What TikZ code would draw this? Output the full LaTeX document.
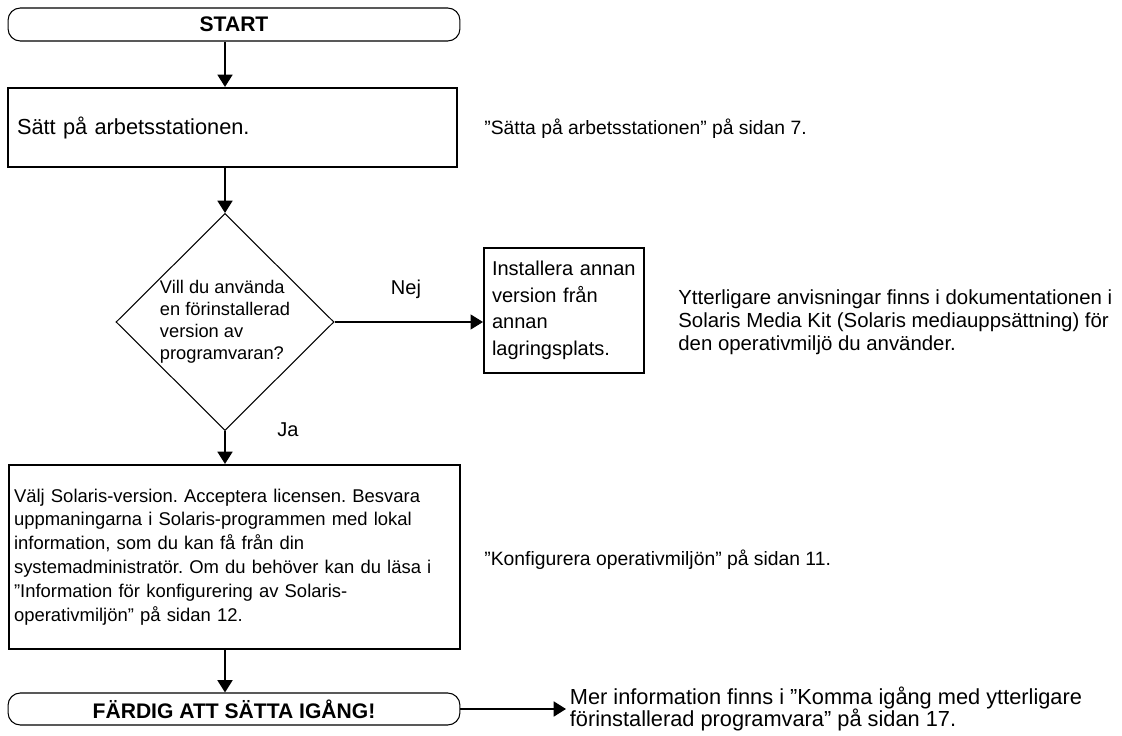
\documentclass[tikz,border=0pt]{standalone}
\usepackage{fontspec}
\setmainfont{Liberation Sans}
\usetikzlibrary{shapes.geometric,arrows.meta}
\frenchspacing
\begin{document}
\begin{tikzpicture}[x=0.02cm, y=-0.02cm, >={Triangle[length=7pt,width=8.5pt]}]
    \tikzstyle{term}=[draw, line width=0.6pt, rounded corners=7pt, minimum width=9.04cm, inner sep=0pt, font=\fontsize{12}{14}\selectfont\bfseries]
    \tikzstyle{box}=[draw, line width=1.2pt, align=left]
    \tikzstyle{note}=[anchor=west, inner sep=0pt, align=left, font=\fontsize{11}{13}\selectfont]
    \tikzstyle{flow}=[->, line width=1.1pt]
    \useasboundingbox (0,0) rectangle (1122,736);
    \node[term, minimum height=0.66cm] (start) at (234,24.5) {START};
    \node[box, minimum width=8.98cm, minimum height=1.58cm, inner xsep=0.18cm, text width=8.62cm, font=\fontsize{12.4}{15}\selectfont] (tanda) at (232.5,127.5) {Sätt på arbetsstationen.};
    \node[note] (sida7) at (484,129) {”Sätta på arbetsstationen” på sidan 7.};
    \node[draw, diamond, line width=0.6pt, minimum width=4.36cm, minimum height=4.34cm, inner sep=0pt, align=left, font=\fontsize{10.4}{12.6}\selectfont] (fraga) at (225,322) {Vill du använda\\en förinstallerad\\version av\\programvaran?};
    \node[inner sep=0pt, font=\fontsize{11.4}{13}\selectfont] (nej) at (406,289) {Nej};
    \node[inner sep=0pt, font=\fontsize{11.4}{13}\selectfont] (ja) at (288,430) {Ja};
    \node[box, minimum width=3.2cm, minimum height=2.5cm, inner xsep=0.16cm, text width=2.88cm, font=\fontsize{11.4}{15.1}\selectfont] (annan) at (564,310.5) {Installera annan\\version från\\annan\\lagringsplats.};
    \node[note, font=\fontsize{11.6}{13}\selectfont] (mediakit) at (678,322) {Ytterligare anvisningar finns i dokumentationen i\\Solaris Media Kit (Solaris mediauppsättning) för\\den operativmiljö du använder.};
    \node[box, minimum width=9.02cm, minimum height=3.68cm, inner xsep=0.1cm, text width=8.82cm, font=\fontsize{10.5}{13.6}\selectfont] (solaris) at (234.5,557) {Välj Solaris-version. Acceptera licensen. Besvara\\uppmaningarna i Solaris-programmen med lokal\\information, som du kan få från din\\systemadministratör. Om du behöver kan du läsa i\\”Information för konfigurering av Solaris-\\operativmiljön” på sidan 12.};
    \node[note] (sida11) at (484,560) {”Konfigurera operativmiljön” på sidan 11.};
    \node[term, minimum height=0.64cm] (klar) at (234,709) {FÄRDIG ATT SÄTTA IGÅNG!};
    \node[note, inner xsep=2pt, font=\fontsize{12.4}{13}\selectfont] (mer) at (566,709) {Mer information finns i ”Komma igång med ytterligare\\förinstallerad programvara” på sidan 17.};
    \draw[flow] (start.south -| fraga) -- (tanda.north -| fraga);
    \draw[flow] (tanda.south -| fraga) -- (fraga.north);
    \draw[->, line width=0.6pt] (fraga.east) -- (fraga.east -| annan.west);
    \draw[flow] (fraga.south) -- (solaris.north -| fraga);
    \draw[flow] (solaris.south -| fraga) -- (klar.north -| fraga);
    \draw[flow] (klar.east) -- (mer.west);
  \end{tikzpicture}
\end{document}
